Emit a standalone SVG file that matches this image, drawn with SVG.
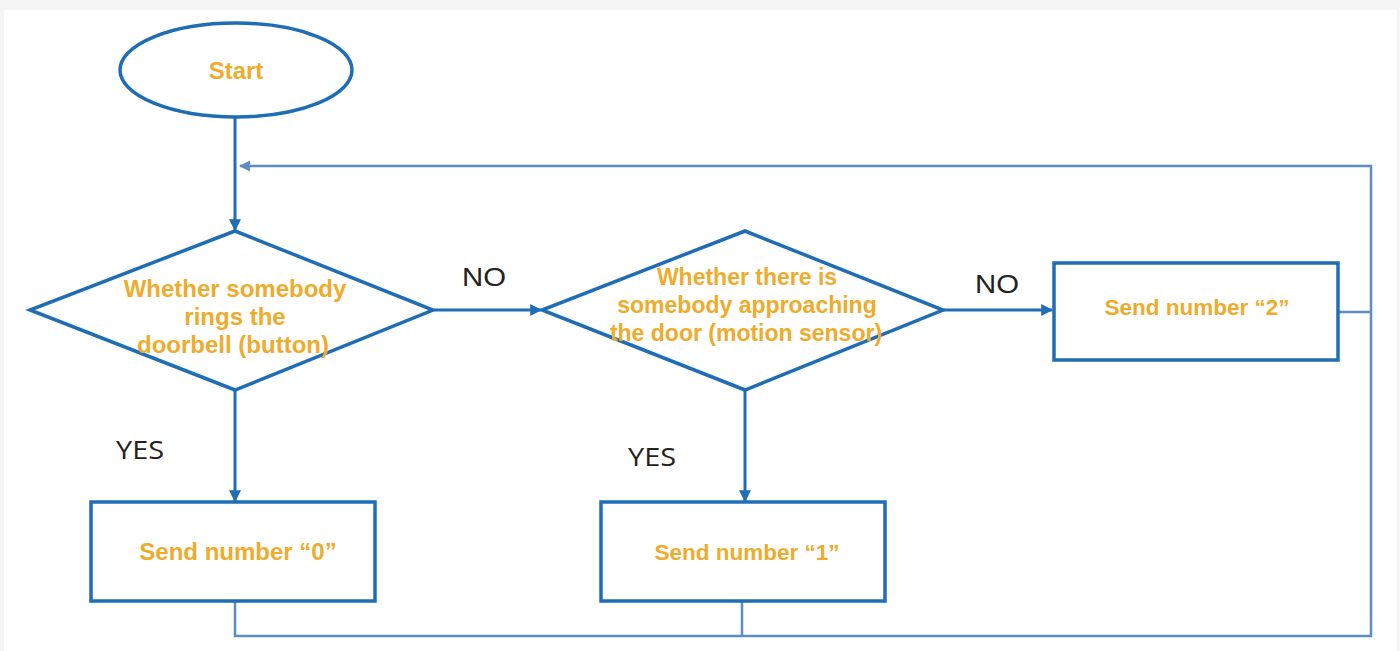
<svg xmlns="http://www.w3.org/2000/svg" width="1400" height="651" viewBox="0 0 1400 651">
<style>
.shape{fill:#ffffff;stroke:#1f6db5;stroke-width:3.5}
.flow{fill:none;stroke:#1f6db5;stroke-width:3}
.loop{fill:none;stroke:#5d8dc4;stroke-width:2.5}
.t{font-family:"Liberation Sans",Arial,sans-serif;font-weight:bold;font-size:24px;fill:#efab2c;text-anchor:middle}
.s{font-size:22.5px}
.d2{font-size:23px}
.lbl{font-family:"Liberation Sans",Arial,sans-serif;font-size:25px;fill:#222222;text-anchor:middle}
.lbl2{font-family:"Open Sans","Liberation Sans",sans-serif;font-size:25px;fill:#222222;text-anchor:middle}
</style>
<defs>
<marker id="ah" viewBox="0 0 10 10" refX="9" refY="5" markerWidth="4" markerHeight="4" orient="auto" markerUnits="strokeWidth">
<path d="M0,0 L10,5 L0,10 z" fill="#1f6db5"/>
</marker>
<marker id="ahl" viewBox="0 0 10 10" refX="9" refY="5" markerWidth="4.5" markerHeight="4.5" orient="auto" markerUnits="strokeWidth">
<path d="M0,0 L10,5 L0,10 z" fill="#5d8dc4"/>
</marker>
</defs>
<rect x="0" y="0" width="1400" height="651" fill="#f5f5f5"/>
<rect x="4" y="10" width="1393" height="641" fill="#ffffff"/>
<g id="connectors">
<path class="loop" d="M1338,312 H1371 M742,601 V636 M235,601 V636 H1371 V166 H240" marker-end="url(#ahl)"/>
<line class="flow" x1="235" y1="118" x2="235" y2="230" marker-end="url(#ah)"/>
<line class="flow" x1="434" y1="310" x2="541" y2="310" marker-end="url(#ah)"/>
<line class="flow" x1="943" y1="310" x2="1052" y2="310" marker-end="url(#ah)"/>
<line class="flow" x1="235" y1="390" x2="235" y2="501" marker-end="url(#ah)"/>
<line class="flow" x1="745" y1="390" x2="745" y2="501" marker-end="url(#ah)"/>
<text class="lbl" x="484" y="286" textLength="44" lengthAdjust="spacingAndGlyphs">NO</text>
<text class="lbl" x="997" y="293" textLength="44" lengthAdjust="spacingAndGlyphs">NO</text>
<text class="lbl2" x="140" y="459" textLength="48" lengthAdjust="spacingAndGlyphs">YES</text>
<text class="lbl2" x="652" y="466" textLength="48" lengthAdjust="spacingAndGlyphs">YES</text>
</g>
<g id="start">
<ellipse class="shape" cx="236" cy="70" rx="116" ry="47"/>
<text class="t" x="236" y="79">Start</text>
</g>
<g id="decision1">
<polygon class="shape" points="235,231 433,310 235,390 30,310"/>
<text class="t" x="235" y="297">Whether somebody</text>
<text class="t" x="235" y="325">rings the</text>
<text class="t" x="233" y="353">doorbell (button)</text>
</g>
<g id="decision2">
<polygon class="shape" points="745,231 943,310 745,390 542,310"/>
<text class="t d2" x="747" y="285">Whether there is</text>
<text class="t d2" x="747" y="313">somebody approaching</text>
<text class="t d2" x="746" y="341">the door (motion sensor)</text>
</g>
<g id="send2">
<rect class="shape" x="1054" y="263" width="284" height="97"/>
<text class="t s" x="1197" y="315">Send number “2”</text>
</g>
<g id="send0">
<rect class="shape" x="91" y="502" width="284" height="99"/>
<text class="t" x="238" y="560">Send number “0”</text>
</g>
<g id="send1">
<rect class="shape" x="601" y="502" width="284" height="99"/>
<text class="t s" x="747" y="560">Send number “1”</text>
</g>
</svg>
